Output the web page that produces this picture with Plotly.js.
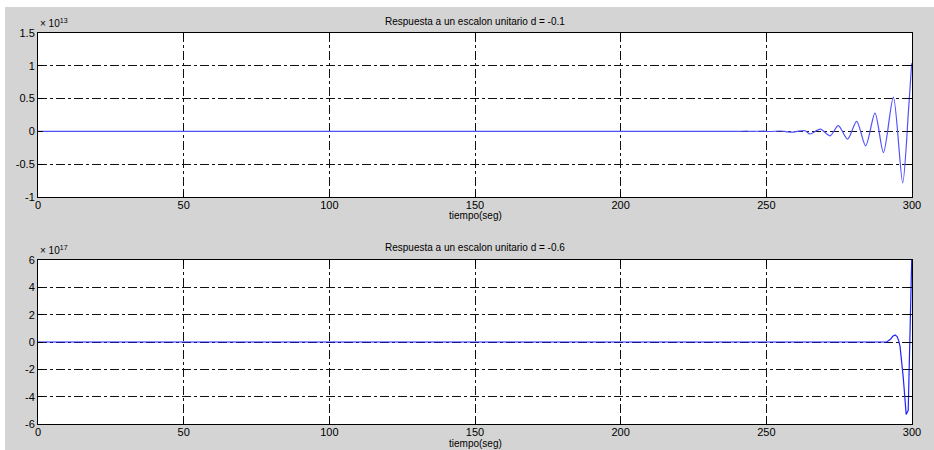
<!DOCTYPE html>
<html>
<head>
<meta charset="utf-8">
<script src="https://cdn.plot.ly/plotly-3.0.1.min.js"></script>
<style>
  html, body { margin: 0; padding: 0; background: #ffffff; }
  #chart { position: absolute; left: 5px; top: 7px; width: 929px; height: 443px; }
</style>
</head>
<body>
<div id="chart"></div>
<script>
// Data (top plot values in units of 1e13, bottom plot values in units of 1e17)
const tTop = [0, 240, 243, 245, 249, 251, 255, 257, 259, 261, 263.3, 265, 268.5, 271.9, 274.7, 277.9, 281, 284.1, 287.3, 290.2, 293.6, 296.8, 298.8, 299.9];
const yTop = [0, 0, 0.004, 0, 0.005, -0.002, 0.006, -0.006, -0.012, 0.004, 0.01, -0.04, 0.036, -0.067, 0.087, -0.118, 0.154, -0.22, 0.277, -0.323, 0.523, -0.785, 0.318, 1.04];

const tBot = [0, 244, 244.3, 248, 248.3, 252, 252.3, 256, 256.3, 260, 260.3, 264, 264.3, 268, 268.3, 272, 272.3, 276, 276.3, 280, 280.3, 284, 284.3, 291.3, 292.6, 293.4, 294.2, 294.9, 295.5, 295.9, 297.0, 298.0, 298.7, 299.5, 299.9];
const yBot = [0, 0, 0.05, 0.05, 0, 0, 0.05, 0.05, 0, 0, 0.05, 0.05, 0, 0, 0.05, 0.05, 0, 0, 0.05, 0.05, 0, 0, 0.05, 0, 0.2, 0.42, 0.51, 0.4, 0.05, -0.34, -2.6, -5.3, -5.0, 1.8, 6.0];

const xTicks = [0, 50, 100, 150, 200, 250, 300];
const yTicksTop = [-1, -0.5, 0, 0.5, 1, 1.5];
const yTicksBot = [-6, -4, -2, 0, 2, 4, 6];

const titleTop = "Respuesta a un escalon unitario d = -0.1";
const titleBot = "Respuesta a un escalon unitario d = -0.6";
const xLabel = "tiempo(seg)";
const expTop = "× 10<sup>13</sup>";
const expBot = "× 10<sup>17</sup>";

const FONT = "Liberation Sans, Arial, sans-serif";

const axisCommon = {
  showline: true, linecolor: "#000", linewidth: 1, mirror: "ticks",
  ticks: "inside", ticklen: 5, tickcolor: "#000", tickwidth: 1,
  showgrid: true, gridcolor: "#111", gridwidth: 1, griddash: "dashdot",
  zeroline: false, tickfont: { family: FONT, size: 11, color: "#000" },
  fixedrange: true
};

const traces = [
  { x: tTop, y: yTop, xaxis: "x", yaxis: "y", mode: "lines",
    line: { color: "#5050ff", width: 1.2, shape: "spline", smoothing: 0.8 }, hoverinfo: "skip" },
  { x: tBot, y: yBot, xaxis: "x2", yaxis: "y2", mode: "lines",
    line: { color: "#2020ff", width: 1.2, shape: "linear" }, hoverinfo: "skip" }
];

const layout = {
  width: 929, height: 443,
  paper_bgcolor: "#d4d4d4", plot_bgcolor: "#ffffff",
  margin: { l: 33, r: 22, t: 26, b: 26, pad: 0 },
  showlegend: false,
  xaxis: Object.assign({}, axisCommon, { domain: [0, 1], anchor: "y", range: [0, 300], tickvals: xTicks, ticklabelstandoff: -2 }),
  yaxis: Object.assign({}, axisCommon, { domain: [0.5806, 1], anchor: "x", range: [-1, 1.5], tickvals: yTicksTop, ticktext: yTicksTop.map(String) }),
  xaxis2: Object.assign({}, axisCommon, { domain: [0, 1], anchor: "y2", range: [0, 300], tickvals: xTicks, ticklabelstandoff: -2 }),
  yaxis2: Object.assign({}, axisCommon, { domain: [0, 0.4194], anchor: "x2", range: [-6, 6], tickvals: yTicksBot, ticktext: yTicksBot.map(String) }),
  annotations: [
    { text: titleTop, xref: "x domain", yref: "y domain", x: 0.5, y: 1, xanchor: "center", yanchor: "bottom", yshift: 4, showarrow: false, font: { family: FONT, size: 10, color: "#000" } },
    { text: titleBot, xref: "x2 domain", yref: "y2 domain", x: 0.5, y: 1, xanchor: "center", yanchor: "bottom", yshift: 5, showarrow: false, font: { family: FONT, size: 10, color: "#000" } },
    { text: expTop, xref: "x domain", yref: "y domain", x: 0, y: 1, xanchor: "left", yanchor: "bottom", xshift: 0, yshift: 2, showarrow: false, font: { family: FONT, size: 10, color: "#000" } },
    { text: expBot, xref: "x2 domain", yref: "y2 domain", x: 0, y: 1, xanchor: "left", yanchor: "bottom", xshift: 0, yshift: 2, showarrow: false, font: { family: FONT, size: 10, color: "#000" } },
    { text: xLabel, xref: "x domain", yref: "y domain", x: 0.5, y: 0, xanchor: "center", yanchor: "top", yshift: -11, showarrow: false, font: { family: FONT, size: 10, color: "#000" } },
    { text: xLabel, xref: "x2 domain", yref: "y2 domain", x: 0.5, y: 0, xanchor: "center", yanchor: "top", yshift: -12, showarrow: false, font: { family: FONT, size: 10, color: "#000" } }
  ]
};

Plotly.newPlot("chart", traces, layout, { displayModeBar: false, staticPlot: true });
</script>
</body>
</html>
